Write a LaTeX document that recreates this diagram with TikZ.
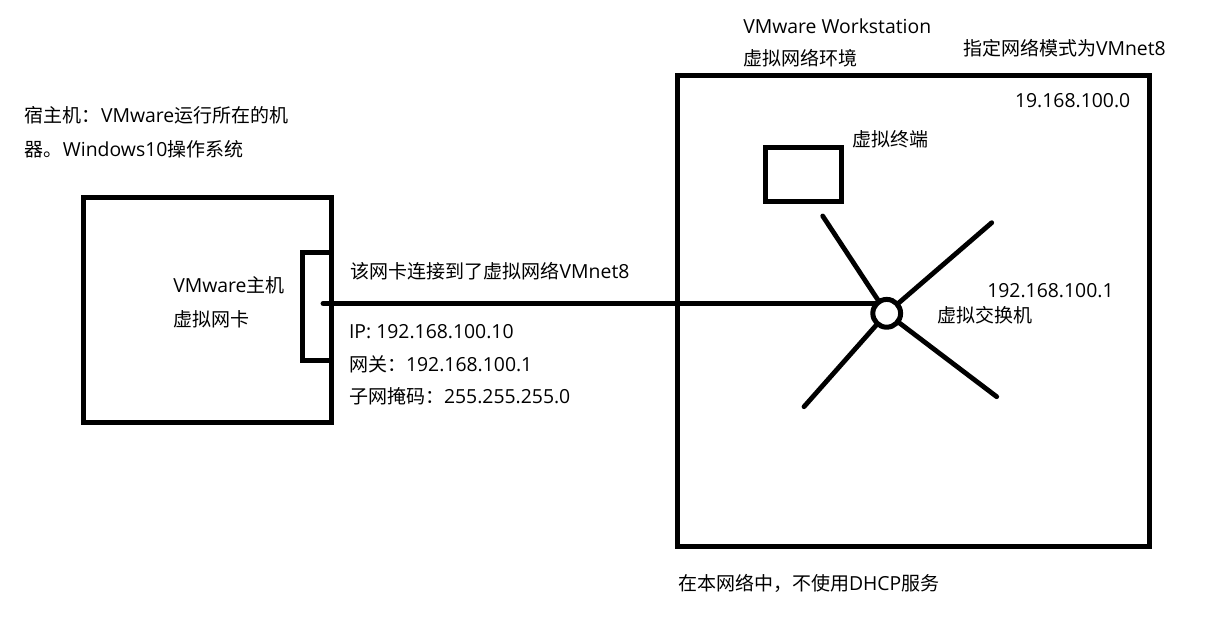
\documentclass[tikz,border=0pt]{standalone}
\usepackage{fontspec}
\setmainfont{Open Sans}[Scale=1.02]
\newfontfamily\zhfont{Noto Sans CJK SC}
\newcommand\zh[1]{{\zhfont #1}}
\begin{document}
\begin{tikzpicture}[x=0.5pt,y=-0.5pt,
  frame/.style={draw, line width=2.5pt, inner sep=0pt, outer sep=0pt},
  wire/.style={line width=2.4pt, line cap=round},
  lbl/.style={anchor=west, inner sep=0pt, outer sep=0pt,
    font=\fontsize{9.5}{11}\selectfont, text height=6.65pt, text depth=0pt}]
\path[fill=white] (0,0) rectangle (1218,623);
\useasboundingbox (0,0) rectangle (1218,623);

% host machine
\node[frame, minimum width=124pt, minimum height=112.5pt] (host) at (207.5,310) {};
\node[frame, minimum width=14.5pt, minimum height=53.75pt] (nic) at (317,306.25) {};
% virtual network
\node[frame, minimum width=235.75pt, minimum height=235.5pt] (vnet) at (913.25,311) {};
\node[frame, minimum width=38pt, minimum height=27pt] (term) at (803,174.5) {};
\node[frame, circle, minimum size=13.9pt] (sw) at (886.7,313.3) {};

% connectors
\coordinate (port) at (323,303.3);
\draw[wire] (port) -- (port -| sw.133);
\coordinate (ul) at (822.7,216);
\coordinate (ur) at (991.7,222.7);
\coordinate (ll) at (804,406.7);
\coordinate (lr) at (996.7,396.7);
\draw[wire] (ul) -- (sw);
\draw[wire] (ur) -- (sw);
\draw[wire] (ll) -- (sw);
\draw[wire] (lr) -- (sw);

% labels
\node[lbl] (t1) at (25,116) {\zh{宿主机：}VMware\zh{运行所在的机}};
\node[lbl] (t2) at (25,149.5) {\zh{器。}Windows10\zh{操作系统}};
\node[lbl] (t3) at (173.3,286) {VMware\zh{主机}};
\node[lbl] (t4) at (173.3,320) {\zh{虚拟网卡}};
\node[lbl] (t5) at (350.7,271.7) {\zh{该网卡连接到了虚拟网络}VMnet8};
\node[lbl] (t6) at (349,331.7) {IP: 192.168.100.10};
\node[lbl] (t7) at (349,365) {\zh{网关：}192.168.100.1};
\node[lbl] (t8) at (349,396.7) {\zh{子网掩码：}255.255.255.0};
\node[lbl] (t9) at (743.3,27.3) {VMware Workstation};
\node[lbl] (t10) at (743.3,59.3) {\zh{虚拟网络环境}};
\node[lbl] (t11) at (963,49) {\zh{指定网络模式为}VMnet8};
\node[lbl] (t12) at (1015,101) {19.168.100.0};
\node[lbl] (t13) at (852,140) {\zh{虚拟终端}};
\node[lbl] (t14) at (987.3,291) {192.168.100.1};
\node[lbl] (t15) at (937.3,316) {\zh{虚拟交换机}};
\node[lbl] (t16) at (678,584) {\zh{在本网络中，不使用}DHCP\zh{服务}};
\end{tikzpicture}
\end{document}
